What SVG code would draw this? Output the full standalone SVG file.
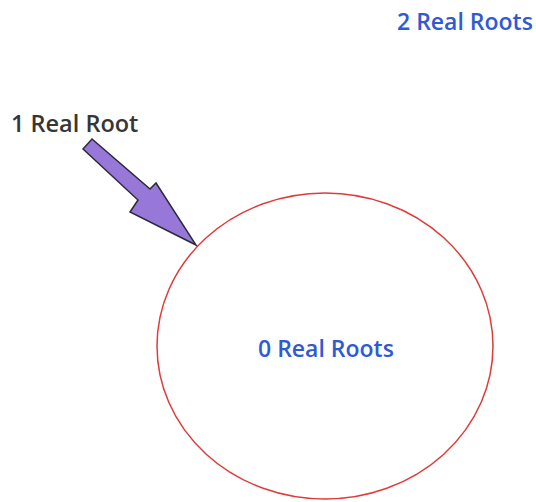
<svg xmlns="http://www.w3.org/2000/svg" width="536" height="502" viewBox="0 0 536 502">
<style>
.lbl{font-family:"Open Sans","Liberation Sans",sans-serif;font-weight:600;font-size:23px}
.blue{fill:#2f5ad4}
</style>
<rect width="536" height="502" fill="#ffffff"/>
<g id="two-roots">
<text class="lbl blue" x="397" y="30">2 Real Roots</text>
</g>
<g id="one-root">
<text class="lbl" x="11" y="132" style="font-size:23.5px" fill="#363636">1 Real Root</text>
</g>
<g id="zero-roots">
<ellipse cx="325" cy="346" rx="168" ry="153" fill="none" stroke="#e03a3a" stroke-width="1.5"/>
<text class="lbl blue" x="258" y="357">0 Real Roots</text>
</g>
<g id="connectors">
<polygon points="83,149 92,139 150,189 156,183 196,245 130,212 138,200" fill="#9778d8" stroke="#2a2a3a" stroke-width="1.5" stroke-linejoin="miter"/>
</g>
</svg>
